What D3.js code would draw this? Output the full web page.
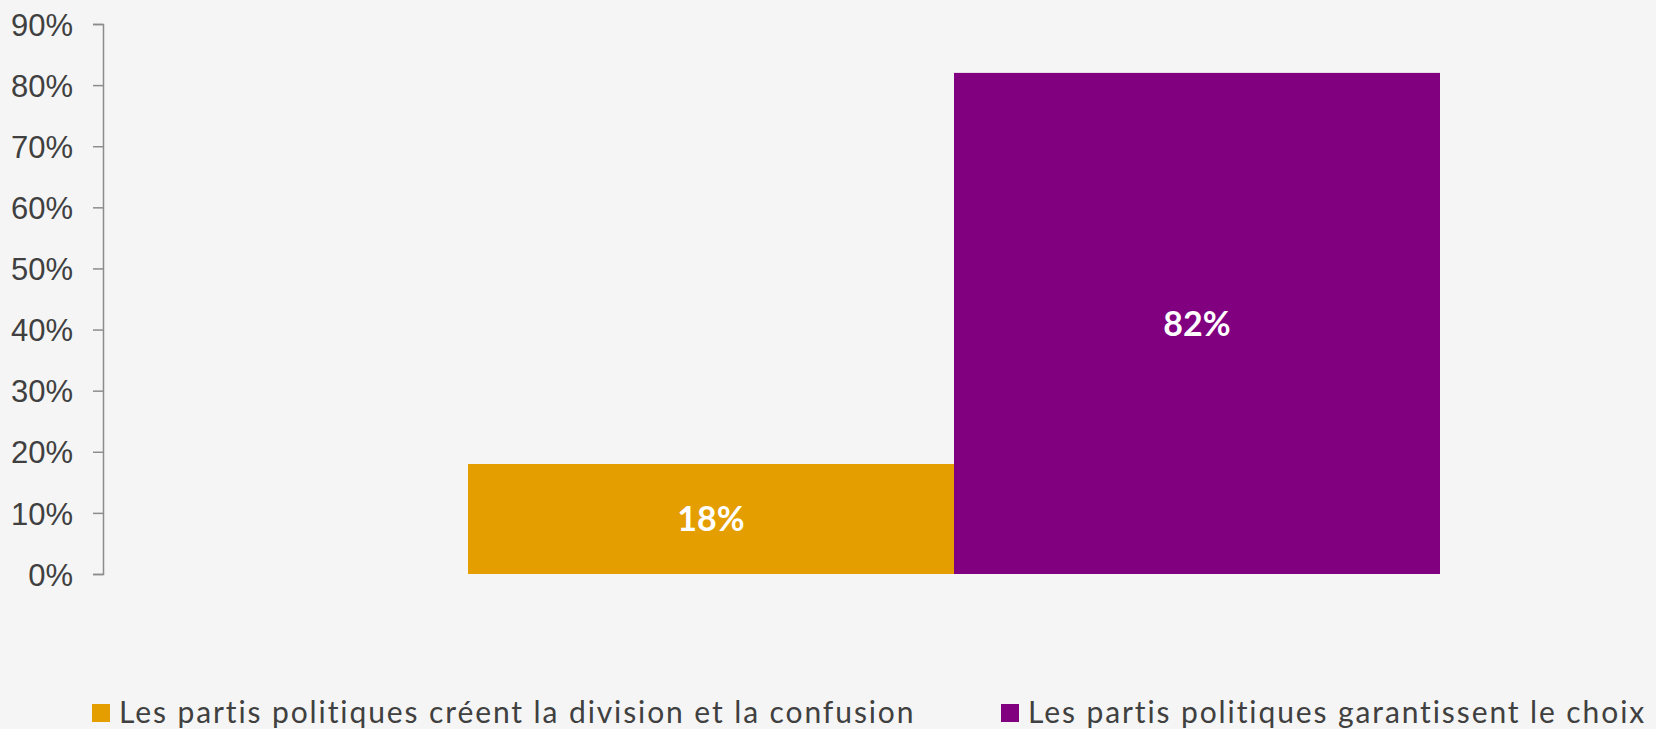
<!DOCTYPE html>
<html>
<head>
<meta charset="utf-8">
<script src="https://cdn.jsdelivr.net/npm/d3@7"></script>
<style>
  html, body { margin: 0; padding: 0; background: #f5f5f5; }
  svg { display: block; font-family: "Century Gothic", Lato, "Open Sans", sans-serif; }
  .y.axis path, .y.axis line { stroke: #8c8c8c; stroke-width: 1.5; }
  .y.axis text { fill: #404040; font-size: 31px; }
  .barLabel { fill: #ffffff; font-size: 34px; font-weight: bold; }
  .legendText { fill: #404040; font-size: 30px; letter-spacing: 1.9px; }
</style>
</head>
<body>
<div id="chart"></div>
<script>
// chart values
let series = ['Les partis politiques créent la division et la confusion',
              'Les partis politiques garantissent le choix'];
let values = [0.18, 0.82];
let colours = ['#e59e00', '#800080'];
let yTicks = [0, 0.1, 0.2, 0.3, 0.4, 0.5, 0.6, 0.7, 0.8, 0.9];

let width = 1656,
  height = 729;

let svg = d3.select('#chart')
  .append('svg')
  .attr('width', width)
  .attr('height', height)
  .attr('viewBox', [0, 0, width, height].join(' '));

let data = series.map((s, i) => ({ name: s, value: values[i], colour: colours[i] }));

// scales
let yScale = d3.scaleLinear()
  .domain([0, 0.9])
  .range([574, 24]);

let xScale = d3.scaleBand()
  .domain(series)
  .range([468, 1440])
  .padding(0);

// y axis
let yAxis = d3.axisLeft(yScale)
  .tickValues(yTicks)
  .tickFormat(d3.format('.0%'))
  .tickSize(10)
  .tickSizeOuter(10)
  .tickPadding(20);

svg.append('g')
    .attr('class', 'y axis')
    .attr('transform', 'translate(103, 0)')
  .call(yAxis)
  .call(g => g.selectAll('text').attr('dy', '0.36em'));

// bars
svg.selectAll('rect.bar')
    .data(data)
  .enter()
  .append('rect')
    .attr('class', 'bar')
    .attr('x', d => xScale(d.name))
    .attr('y', d => yScale(d.value))
    .attr('width', xScale.bandwidth())
    .attr('height', d => yScale(0) - yScale(d.value))
    .attr('fill', d => d.colour);

// value labels inside bars
svg.selectAll('text.barLabel')
    .data(data)
  .enter()
  .append('text')
    .attr('class', 'barLabel')
    .attr('x', d => xScale(d.name) + xScale.bandwidth() / 2)
    .attr('y', d => (yScale(d.value) + yScale(0)) / 2)
    .attr('dy', '0.36em')
    .style('text-anchor', 'middle')
    .text(d => d3.format('.0%')(d.value));

// legend
let legendX = [92, 1001];
let legend = svg.selectAll('g.legend')
    .data(data)
  .enter()
  .append('g')
    .attr('class', 'legend')
    .attr('transform', (d, i) => `translate(${legendX[i]}, 704)`);

legend.append('rect')
  .attr('width', 18)
  .attr('height', 18)
  .attr('fill', d => d.colour);

legend.append('text')
  .attr('class', 'legendText')
  .attr('x', 27)
  .attr('y', 18.5)
  .text(d => d.name);
</script>
</body>
</html>
